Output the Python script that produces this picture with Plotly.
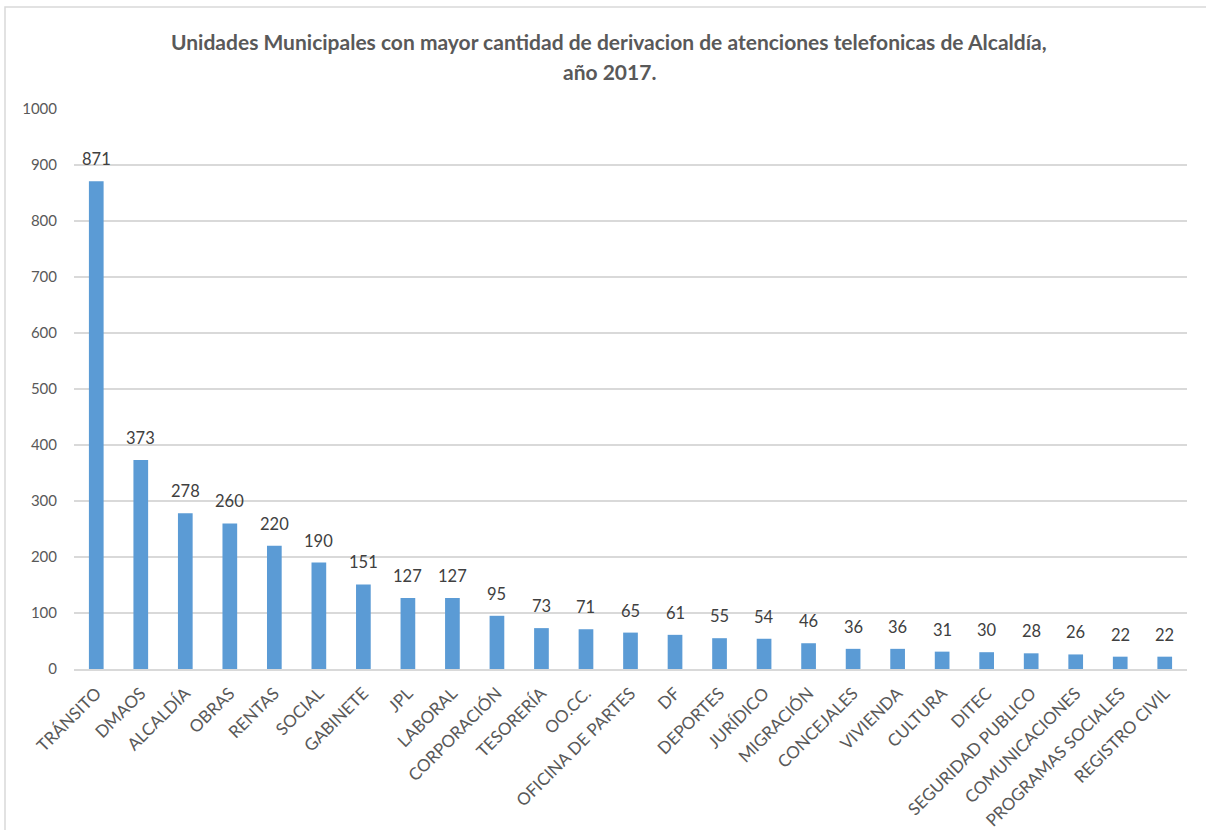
import plotly.graph_objects as go

# Unidades municipales y cantidad de derivaciones telefónicas (2017)
unidades = [
    "TRÁNSITO", "DMAOS", "ALCALDÍA", "OBRAS", "RENTAS", "SOCIAL", "GABINETE",
    "JPL", "LABORAL", "CORPORACIÓN", "TESORERÍA", "OO.CC.", "OFICINA DE PARTES",
    "DF", "DEPORTES", "JURÍDICO", "MIGRACIÓN", "CONCEJALES", "VIVIENDA",
    "CULTURA", "DITEC", "SEGURIDAD PUBLICO", "COMUNICACIONES",
    "PROGRAMAS SOCIALES", "REGISTRO CIVIL",
]
derivaciones = [871, 373, 278, 260, 220, 190, 151, 127, 127, 95, 73, 71, 65,
                61, 55, 54, 46, 36, 36, 31, 30, 28, 26, 22, 22]
y_ticks = list(range(0, 1001, 100))

titulo_1 = "Unidades Municipales con mayor cantidad de derivacion de atenciones telefonicas de Alcaldía,"
titulo_2 = "año 2017."

FONT = "Lato"
W, H = 1206, 830
ML, MR, MT, MB = 74, 19, 109, 161
PW, PH = W - ML - MR, H - MT - MB


def px_x(p):
    return (p - ML) / PW


def px_y(p):
    return (H - MB - p) / PH


fig = go.Figure(
    go.Bar(
        x=unidades,
        y=derivaciones,
        marker=dict(color="#5B9BD5", line=dict(width=0)),
        hoverinfo="x+y",
    )
)

# Etiquetas de valor sobre cada barra
for u, v in zip(unidades, derivaciones):
    fig.add_annotation(
        x=u, y=v, text=str(v), showarrow=False, yanchor="bottom", yshift=10,
        font=dict(family=FONT, size=16.5, color="#404040"),
    )

fig.add_annotation(
    xref="paper", yref="paper", x=px_x(609), y=px_y(41), text="<b>" + titulo_1 + "</b>",
    showarrow=False, xanchor="center", yanchor="middle",
    font=dict(family=FONT, size=21, color="#595959"),
)
fig.add_annotation(
    xref="paper", yref="paper", x=px_x(609), y=px_y(71), text="<b>" + titulo_2 + "</b>",
    showarrow=False, xanchor="center", yanchor="middle",
    font=dict(family=FONT, size=21, color="#595959"),
)

# Marco del gráfico
fig.add_shape(
    type="rect", xref="paper", yref="paper",
    x0=px_x(5), x1=px_x(1212), y0=px_y(836), y1=px_y(7),
    line=dict(color="#D9D9D9", width=1.5), fillcolor="rgba(0,0,0,0)", layer="below",
)

fig.update_layout(
    width=W, height=H,
    margin=dict(l=ML, r=MR, t=MT, b=MB, pad=0, autoexpand=False),
    paper_bgcolor="white", plot_bgcolor="white",
    bargap=0.67,
    showlegend=False,
    font=dict(family=FONT, color="#595959"),
)
fig.update_xaxes(
    type="category", tickangle=-45, showgrid=False, automargin=False,
    showline=True, linecolor="#D9D9D9", linewidth=1.5,
    tickfont=dict(family=FONT, size=17, color="#595959"),
    ticks="", ticklabelstandoff=6,
)
fig.update_yaxes(
    range=[0, 1000], tickvals=y_ticks, showgrid=True, gridcolor="#D9D9D9", gridwidth=1.5,
    zeroline=False, showline=False, ticks="", ticklabelstandoff=16, automargin=False,
    tickfont=dict(family=FONT, size=15, color="#595959"),
)

fig.write_html("out.html")
